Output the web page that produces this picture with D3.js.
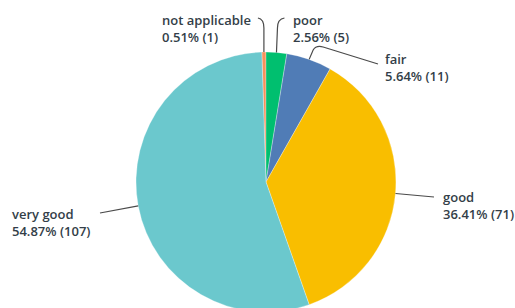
<!DOCTYPE html>
<html>
<head>
<meta charset="utf-8">
<script src="https://cdn.jsdelivr.net/npm/d3@7"></script>
<style>
  html, body { margin: 0; padding: 0; background: #fff; }
</style>
</head>
<body>
<div id="canvas"></div>
<script>
// answer categories, in survey order
const categories = ["not applicable", "poor", "fair", "good", "very good"];
const counts = [1, 5, 11, 71, 107];
const percents = ["0.51%", "2.56%", "5.64%", "36.41%", "54.87%"];
const colors = ["#f6915c", "#00bf6f", "#507cb6", "#f9be00", "#6bc8cd"];

const width = 515;
const height = 308;
const cx = 266, cy = 182, radius = 130;

// label placement (text start + leader line shape), hand tuned
const labelLayout = {
    "not applicable": { x: 162, y: 25, path: (p) => `M${p[0]},${p[1]} L${p[0]},28 Q${p[0]},19 ${p[0] - 6},18` },
    "poor":           { x: 293, y: 25, path: (p) => `M${p[0]},${p[1]} L${p[0] + 1},28 Q${p[0] + 1},19 ${p[0] + 8},18` },
    "fair":           { x: 385, y: 64, path: (p) => `M${p[0]},${p[1]} L${p[0] + 4},50 Q${p[0] + 7},45 ${p[0] + 14},47 L378,64` },
    "good":           { x: 443, y: 202, path: (p) => `M${p[0]},${p[1]} L434,197` },
    "very good":      { x: 12, y: 219, path: (p) => `M${p[0]},${p[1]} L100,213` }
};

const total = d3.sum(counts);
const data = categories.map((c, i) => ({ cat: c, count: counts[i], pct: percents[i], color: colors[i] }));

const svg = d3.select("#canvas")
    .append("svg")
    .attr("width", width)
    .attr("height", height)
    .style("display", "block");

// first slice ends at 12 o'clock
const start = -2 * Math.PI * counts[0] / total;
const pie = d3.pie()
    .value(d => d.count)
    .sort(null)
    .startAngle(start)
    .endAngle(start + 2 * Math.PI);

const arc = d3.arc().innerRadius(0).outerRadius(radius);
const arcs = pie(data);

const g = svg.append("g").attr("transform", `translate(${cx},${cy})`);

g.selectAll("path.slice")
    .data(arcs)
    .join("path")
    .attr("class", "slice")
    .attr("d", arc)
    .attr("fill", d => d.data.color)
    .attr("stroke", "#fff")
    .attr("stroke-width", 0.3);

// leader lines start at the middle of each slice's rim
arcs.forEach(a => {
    const mid = (a.startAngle + a.endAngle) / 2;
    const p = [cx + radius * Math.sin(mid), cy - radius * Math.cos(mid)];
    const lay = labelLayout[a.data.cat];

    svg.append("path")
        .attr("d", lay.path(p))
        .attr("fill", "none")
        .attr("stroke", "#4a4a4a")
        .attr("stroke-width", 1.2);

    const t = svg.append("text")
        .attr("x", lay.x)
        .attr("y", lay.y)
        .attr("font-family", "Open Sans, sans-serif")
        .attr("font-weight", 600)
        .attr("font-size", "13px")
        .attr("fill", "#333e48");
    t.append("tspan").attr("x", lay.x).text(a.data.cat);
    t.append("tspan").attr("x", lay.x).attr("dy", 17).text(`${a.data.pct} (${a.data.count})`);
});
</script>
</body>
</html>
